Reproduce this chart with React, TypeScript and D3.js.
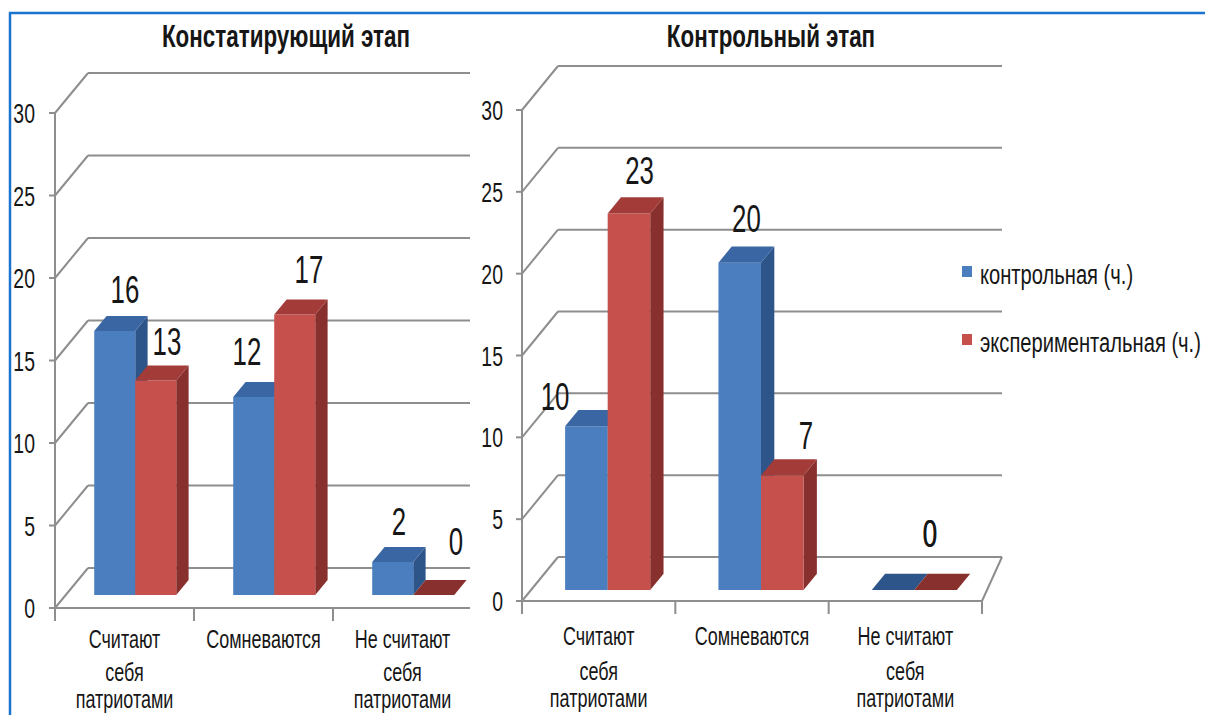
import React from 'react';
import * as d3 from 'd3';

const categoryLines: string[][] = [
  ['Считают', 'себя', 'патриотами'],
  ['Сомневаются'],
  ['Не считают', 'себя', 'патриотами'],
];
const categories = ['Считают себя патриотами', 'Сомневаются', 'Не считают себя патриотами'];
const seriesNames = ['контрольная (ч.)', 'экспериментальная (ч.)'];
const stage1Title = 'Констатирующий этап';
const stage1Control = [16, 12, 2];
const stage1Experimental = [13, 17, 0];
const stage2Title = 'Контрольный этап';
const stage2Control = [10, 20, 0];
const stage2Experimental = [23, 7, 0];
const yTicks = [0, 5, 10, 15, 20, 25, 30];

const COLORS = [
  { front: '#4a7ebf', top: '#3a66a3', side: '#2e558a' },
  { front: '#c6504c', top: '#a33c39', side: '#87302d' },
];
const GRID = '#8e8e8e';
const TEXT = '#161616';
const SX = 0.72;
const FONT = "'Liberation Sans', Arial, sans-serif";

type Layout = {
  axisX: number; y0: number; yTop: number; xEnd: number; frontEnd: number; backEnd: number;
  DX: number; DY: number; z0: number; z1: number; pairFrac: number; tickLabelX: number;
  titleX: number; titleY: number; catBaselines: number[]; rightEdge: boolean;
  nudges: number[][][];
};

function T(props: { x: number; y: number; size: number; anchor?: string; weight?: string; sx?: number; children: React.ReactNode }) {
  const { x, y, size, anchor = 'middle', weight = 'normal', sx = SX, children } = props;
  return (
    <text transform={`translate(${x},${y}) scale(${sx},1)`} fontSize={size} textAnchor={anchor as any}
      fontWeight={weight} fill={TEXT} fontFamily={FONT}>{children}</text>
  );
}

function Chart3D({ title, values, L }: { title: string; values: number[][]; L: Layout }) {
  const y = d3.scaleLinear().domain([0, 30]).range([L.y0, L.yTop]);
  const x = d3.scaleBand<string>().domain(categories).range([L.axisX, L.xEnd]).paddingInner(0).paddingOuter(0);
  const bw = x.bandwidth();
  const pairW = bw * L.pairFrac;
  const inner = d3.scaleBand<string>().domain(seriesNames).range([0, pairW]);
  const P = (px: number, py: number, z: number) => [px + z * L.DX, py - z * L.DY];
  const pts = (a: number[][]) => a.map((p) => p.join(',')).join(' ');

  const bars: React.ReactNode[] = [];
  const labels: React.ReactNode[] = [];
  categories.forEach((c, ci) => {
    seriesNames.forEach((s, si) => {
      const v = values[si][ci];
      const x0 = (x(c) as number) + (bw - pairW) / 2 + (inner(s) as number);
      const x1 = x0 + inner.bandwidth();
      const yb = y(0), yt = y(v);
      const col = COLORS[si];
      const front = [P(x0, yb, L.z0), P(x1, yb, L.z0), P(x1, yt, L.z0), P(x0, yt, L.z0)];
      const side = [P(x1, yb, L.z0), P(x1, yb, L.z1), P(x1, yt, L.z1), P(x1, yt, L.z0)];
      const top = [P(x0, yt, L.z0), P(x1, yt, L.z0), P(x1, yt, L.z1), P(x0, yt, L.z1)];
      bars.push(
        <g key={`${ci}-${si}`}>
          {v > 0 && <polygon points={pts(side)} fill={col.side} />}
          {v > 0 && <polygon points={pts(front)} fill={col.front} />}
          <polygon points={pts(top)} fill={v > 0 ? col.top : col.side} />
        </g>
      );
      const zm = (L.z0 + L.z1) / 2;
      const [lx] = P((x0 + x1) / 2, yt, zm);
      const [, backTop] = P(x0, yt, L.z1);
      const nd = L.nudges[si][ci];
      labels.push(
        <T key={`l${ci}-${si}`} x={lx + nd[0]} y={backTop - 13 + nd[1]} size={38} sx={0.68}>{v}</T>
      );
    });
  });

  return (
    <g>
      <T x={L.titleX} y={L.titleY} size={32} weight="bold" sx={0.7}>{title}</T>
      {yTicks.map((t) => {
        const [bx, by] = P(L.axisX, y(t), 1);
        return (
          <g key={t} stroke={GRID} strokeWidth={2} fill="none">
            <line x1={L.axisX} y1={y(t)} x2={bx} y2={by} />
            <line x1={bx} y1={by} x2={L.backEnd} y2={by} />
            <line x1={L.axisX - 6} y1={y(t)} x2={L.axisX} y2={y(t)} />
          </g>
        );
      })}
      <line x1={L.axisX} y1={y(0)} x2={L.frontEnd} y2={y(0)} stroke={GRID} strokeWidth={2} />
      <line x1={L.axisX} y1={y(30)} x2={L.axisX} y2={y(0) + 13} stroke={GRID} strokeWidth={2} />
      {L.rightEdge && (
        <line x1={L.frontEnd} y1={y(0)} x2={L.backEnd} y2={y(0) - L.DY} stroke={GRID} strokeWidth={2} />
      )}
      {categories.map((c, i) => {
        const bx = (x(c) as number) + bw;
        if (i === categories.length - 1 && !L.rightEdge) return null;
        const xx = i === categories.length - 1 ? L.frontEnd : bx;
        return <line key={c} x1={xx} y1={y(0)} x2={xx} y2={y(0) + 13} stroke={GRID} strokeWidth={2} />;
      })}
      {yTicks.map((t) => (
        <T key={`t${t}`} x={L.tickLabelX} y={y(t) + 10} size={27} anchor="end">{t}</T>
      ))}
      {bars}
      {labels}
      {categories.map((c, i) => {
        const cx = (x(c) as number) + bw / 2;
        return categoryLines[i].map((ln, li) => (
          <T key={`${c}-${li}`} x={cx} y={L.catBaselines[li]} size={25}>{ln}</T>
        ));
      })}
    </g>
  );
}

const leftLayout: Layout = {
  axisX: 55, y0: 608, yTop: 113, xEnd: 472, frontEnd: 470, backEnd: 470,
  DX: 33, DY: 40, z0: 0.325, z1: 0.7, pairFrac: 0.59, tickLabelX: 35,
  titleX: 286, titleY: 47, catBaselines: [648, 681, 708], rightEdge: false,
  nudges: [
    [[4, 0], [-13, -4], [0, 1]],
    [[5, 2], [8, -4], [16, -12]],
  ],
};

const rightLayout: Layout = {
  axisX: 522, y0: 601, yTop: 110, xEnd: 982, frontEnd: 982, backEnd: 1002,
  DX: 36, DY: 44, z0: 0.25, z1: 0.62, pairFrac: 0.555, tickLabelX: 503,
  titleX: 771, titleY: 47, catBaselines: [645, 680, 707], rightEdge: true,
  nudges: [
    [[-38, 13], [0, -1], [30, -14]],
    [[4, 0], [17, 3], [-12, -14]],
  ],
};

export default function App() {
  return (
    <svg width={1205} height={715} style={{ position: 'absolute', left: 0, top: 0, background: '#fff' }}>
      <rect x={0} y={0} width={1205} height={715} fill="#ffffff" />
      <line x1={9} y1={13} x2={1205} y2={13} stroke="#1a74cf" strokeWidth={2.5} />
      <line x1={10} y1={12} x2={10} y2={715} stroke="#1a74cf" strokeWidth={2.5} />
      <Chart3D title={stage1Title} values={[stage1Control, stage1Experimental]} L={leftLayout} />
      <Chart3D title={stage2Title} values={[stage2Control, stage2Experimental]} L={rightLayout} />
      {seriesNames.map((s, i) => (
        <g key={s}>
          <rect x={962} y={266 + i * 68} width={10} height={11} fill={COLORS[i].front} />
          <T x={980} y={284 + i * 68} size={28} anchor="start">{s}</T>
        </g>
      ))}
    </svg>
  );
}
